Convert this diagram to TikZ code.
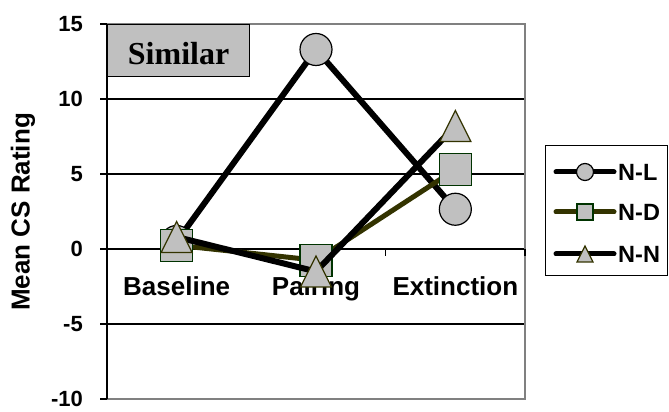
\documentclass[tikz,border=0pt]{standalone}
\usepackage{fontspec}
\setmainfont{Liberation Sans}
\newfontfamily\serifbold{Liberation Serif}
\usetikzlibrary{calc}
\definecolor{markgray}{RGB}{192,192,192}
\definecolor{olivedark}{RGB}{51,51,0}
\definecolor{greendark}{RGB}{0,51,0}
\definecolor{framegray}{RGB}{128,128,128}
\tikzset{
  nlline/.style={black, line width=6pt, line cap=round, line join=round},
  ndline/.style={olivedark, line width=5pt, line cap=round, line join=round},
  nnline/.style={black, line width=6pt, line cap=round, line join=round},
  circmark/.style={circle, draw=black, line width=1.2pt, fill=markgray, minimum size=#1, inner sep=0pt},
  sqmark/.style={rectangle, draw=greendark, line width=1.2pt, fill=markgray, minimum size=#1, inner sep=0pt},
  pics/trimark/.style={code={\draw[olivedark, line width=1.2pt, fill=markgray] (-#1,-#1) -- (#1,-#1) -- (0,#1) -- cycle;}},
  catlabel/.style={anchor=base, inner sep=0pt, font=\fontsize{26}{26}\selectfont\bfseries},
  leglabel/.style={anchor=west, inner sep=0pt, font=\fontsize{23.5}{24}\selectfont\bfseries},
}

\begin{document}
\begin{tikzpicture}[x=1pt, y=1pt]
  \useasboundingbox (0,0) rectangle (669,412); % whole page

  \node[rotate=90, font=\fontsize{26}{26}\selectfont\bfseries] (ytitle) at (23,200) {Mean CS Rating};

  \begin{scope}[shift={(107,163)}, x=139.333pt, y=15pt]
    % grid and axes
    \foreach \v in {-5,0,5,10}
      \draw[black, line width=1.2pt] (0,\v) -- (3,\v);
    \draw[framegray, line width=1.2pt] (0,15) -- (3,15) -- (3,-10) -- (0,-10);
    \draw[black, line width=1.2pt] (0,15) -- (0,-10);
    \foreach \v in {-10,-5,...,15} {
      \draw[black, line width=1.2pt] (0,\v) -- ++(-7pt,0);
      \node[anchor=east, inner sep=0pt, font=\fontsize{22}{22}\selectfont\bfseries] (tick\v) at ([xshift=-24pt]0,\v) {\v};
    }
    \foreach \c in {1,2,3}
      \draw[black, line width=1.2pt] (\c,0) -- ++(0,-7pt);

    \node[catlabel] (base) at ([yshift=-47pt]0.5,0) {Baseline};
    \node[catlabel] (pair) at ([yshift=-47pt]1.5,0) {Pairing};
    \node[catlabel] (ext) at ([yshift=-47pt]2.5,0) {Extinction};

    \node[draw=black, fill=markgray, line width=1.2pt, minimum width=142pt, minimum height=52pt, anchor=north west, inner sep=0pt] (simbox) at (0,15) {};
    \node[font=\fontsize{32}{32}\selectfont\serifbold\bfseries] (simtext) at ([yshift=-3pt]simbox.center) {Similar};

    % data points
    \coordinate (nl1) at (0.5,0.5);   \coordinate (nl2) at (1.5,13.3);  \coordinate (nl3) at (2.5,2.65);
    \coordinate (nd1) at (0.5,0.25);  \coordinate (nd2) at (1.5,-0.75); \coordinate (nd3) at (2.5,5.3);
    \coordinate (nn1) at (0.5,0.8);   \coordinate (nn2) at (1.5,-1.5);  \coordinate (nn3) at (2.5,8.2);

    % N-L
    \draw[nlline] (nl1) -- (nl2) -- (nl3);
    \foreach \p in {nl1,nl2,nl3}
      \node[circmark=32pt] at (\p) {};
    % N-D
    \draw[ndline] (nd1) -- (nd2) -- (nd3);
    \foreach \p in {nd1,nd2,nd3}
      \node[sqmark=32pt] at (\p) {};
    % N-N
    \draw[nnline] (nn1) -- (nn2) -- (nn3);
    \foreach \p in {nn1,nn2,nn3}
      \pic at (\p) {trimark=15.5pt};
  \end{scope}

  % legend
  \node[draw=black, fill=white, line width=1.2pt, minimum width=122pt, minimum height=130pt, anchor=north west, inner sep=0pt] (legbox) at (545,267) {};
  \coordinate (lnla) at (556,240); \coordinate (lnlb) at (614,240);
  \coordinate (lnda) at (556,200); \coordinate (lndb) at (614,200);
  \coordinate (lnna) at (556,158); \coordinate (lnnb) at (614,158);
  \draw[nlline, line width=5pt] (lnla) -- (lnlb);
  \node[circmark=17pt] (lnlm) at ($(lnla)!0.5!(lnlb)$) {};
  \node[leglabel] (lnlt) at (618,240) {N-L};
  \draw[ndline] (lnda) -- (lndb);
  \node[sqmark=16pt] (lndm) at ($(lnda)!0.5!(lndb)$) {};
  \node[leglabel] (lndt) at (618,200) {N-D};
  \draw[nnline, line width=5pt] (lnna) -- (lnnb);
  \pic at ($(lnna)!0.5!(lnnb)$) {trimark=8pt};
  \node[leglabel] (lnnt) at (618,158) {N-N};
\end{tikzpicture}
\end{document}
